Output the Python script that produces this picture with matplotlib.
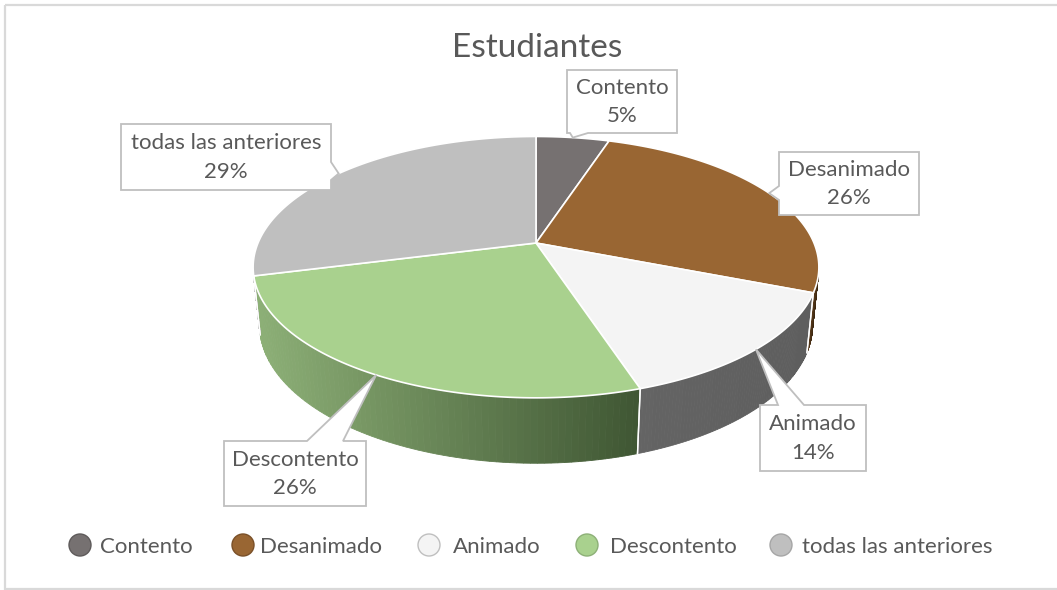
import numpy as np
import matplotlib
matplotlib.use('Agg')
import matplotlib.pyplot as plt
from matplotlib.patches import Polygon, Circle, Rectangle
from matplotlib.colors import to_rgb

# data
categories = ['Contento', 'Desanimado', 'Animado', 'Descontento', 'todas las anteriores']
values = [5, 26, 14, 26, 29]
chart_title = 'Estudiantes'

# colours (top face, side light, side dark)
top_colors = ['#767171', '#996633', '#F4F4F4', '#A9D18E', '#BFBFBF']
side_light = ['#5e5a5a', '#5a3b1c', '#646464', '#8DB077', '#a0a0a0']
side_dark = ['#4a4747', '#3a2610', '#5e5e5e', '#3F5633', '#808080']
txt_col = '#595959'
fnt = 'Lato'

# 3d pie geometry (pixels)
cx, cy = 536, 243
S = 278
D = 4.82
elev = np.radians(27)
h = 0.235


def proj(theta, z):
    X = np.sin(theta)
    Y = -np.cos(theta)
    depth = Y*np.cos(elev) + z*np.sin(elev)
    f = D/(D - depth)
    return cx + S*X*f, cy - S*(z*np.cos(elev) - Y*np.sin(elev))*f


fig = plt.figure(figsize=(10.57, 5.90), dpi=100)
ax = fig.add_axes([0, 0, 1, 1])
ax.set_xlim(0, 1057)
ax.set_ylim(590, 0)
ax.axis('off')

ax.add_patch(Rectangle((5, 5), 1060, 584, fill=False, edgecolor='#D9D9D9', lw=1.6))

vals = np.array(values, dtype=float)
bounds = np.concatenate([[0], np.cumsum(vals)/vals.sum()])*2*np.pi
vis_lo = np.arccos(-1/(D*np.cos(elev)))
vis_hi = 2*np.pi - vis_lo

# sides
for i in range(len(values)):
    a1, a2 = max(bounds[i], vis_lo), min(bounds[i+1], vis_hi)
    if a2 <= a1:
        continue
    edges = np.linspace(a1, a2, 80)
    xs_all = [proj(t, 0)[0] for t in (a1, a2)]
    xl, xr = min(xs_all), max(xs_all)
    cl, cd = np.array(to_rgb(side_light[i])), np.array(to_rgb(side_dark[i]))
    for k in range(len(edges) - 1):
        t = np.linspace(edges[k], edges[k+1], 3)
        top = [proj(tt, 0) for tt in t]
        bot = [proj(tt, -h) for tt in t[::-1]]
        xm = np.mean([p[0] for p in top])
        fr = (xm - xl)/(xr - xl) if xr > xl else 0
        c = cl + (cd - cl)*fr
        ax.add_patch(Polygon(top + bot, closed=True, facecolor=c, edgecolor=c, lw=0.6))
    for b in (bounds[i], bounds[i+1]):
        if vis_lo < b < vis_hi:
            p, q = proj(b, 0), proj(b, -h)
            ax.plot([p[0], q[0]], [p[1], q[1]], color='white', lw=1)

# tops
for i in range(len(values)):
    t = np.linspace(bounds[i], bounds[i+1], 200)
    pts = [(cx, cy)] + [proj(tt, 0) for tt in t]
    ax.add_patch(Polygon(pts, closed=True, facecolor=top_colors[i], edgecolor='white', lw=1.2))

ax.text(537, 48, chart_title, ha='center', va='center', fontsize=24, color=txt_col, family=fnt)

# callout labels: box (x0, y0, x1, y1), pointer side, pointer base
boxes = [(567, 70, 677, 133), (779, 152, 919, 215), (760, 405, 866, 471),
         (224, 441, 366, 506), (121, 124, 331, 190)]
sides = ['bottom', 'left', 'top', 'top', 'right']
bases = [(570, 588), (186, 200), (778, 804), (307, 343), (162, 180)]


def callout(box, side, base, tip):
    x0, y0, x1, y1 = box
    b0, b1 = base
    if side == 'top':
        v = [(x0, y0), (b0, y0), tip, (b1, y0), (x1, y0), (x1, y1), (x0, y1)]
    elif side == 'right':
        v = [(x0, y0), (x1, y0), (x1, b0), tip, (x1, b1), (x1, y1), (x0, y1)]
    elif side == 'bottom':
        v = [(x0, y0), (x1, y0), (x1, y1), (b1, y1), tip, (b0, y1), (x0, y1)]
    else:
        v = [(x0, y0), (x1, y0), (x1, y1), (x0, y1), (x0, b1), tip, (x0, b0)]
    ax.add_patch(Polygon(v, closed=True, facecolor='white', edgecolor='#BFBFBF', lw=1.3, zorder=5))


for i, name in enumerate(categories):
    mid = (bounds[i] + bounds[i+1])/2
    tip = proj(mid, 0)
    callout(boxes[i], sides[i], bases[i], tip)
    x0, y0, x1, y1 = boxes[i]
    bx, by = (x0 + x1)/2, (y0 + y1)/2
    pct = round(values[i]/sum(values)*100)
    ax.text(bx, by - 14, name, ha='center', va='center', fontsize=16, color=txt_col, family=fnt, zorder=6)
    ax.text(bx, by + 15, f'{pct}%', ha='center', va='center', fontsize=16, color=txt_col, family=fnt, zorder=6)

# legend
leg_mark_x = [80, 243, 429, 587, 781]
leg_text_x = [100, 260, 453, 610, 802]
leg_edge = ['#5e5a5a', '#7a5028', '#BFBFBF', '#8DB077', '#A6A6A6']
for i, name in enumerate(categories):
    ax.add_patch(Circle((leg_mark_x[i], 545), 11, facecolor=top_colors[i], edgecolor=leg_edge[i], lw=1))
    ax.text(leg_text_x[i], 547, name, ha='left', va='center', fontsize=16, color=txt_col, family=fnt)

fig.savefig('out.png', dpi=100)
